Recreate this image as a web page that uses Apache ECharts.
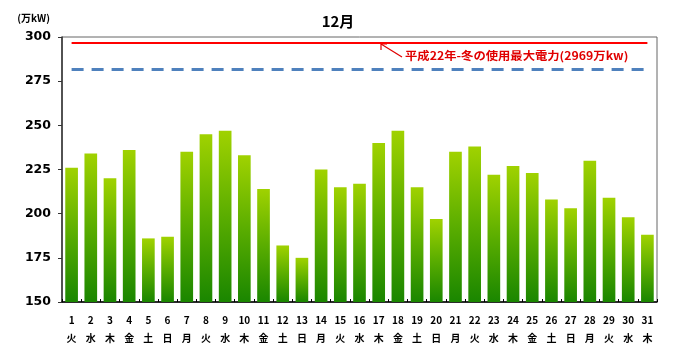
<!DOCTYPE html>
<html><head><meta charset="utf-8">
<script src="https://cdn.jsdelivr.net/npm/echarts@6/dist/echarts.min.js"></script>
<style>html,body{margin:0;padding:0;background:#fff}#c{width:676px;height:355px}</style>
</head><body><div id="c"></div>
<script>
const days = ['1','2','3','4','5','6','7','8','9','10','11','12','13','14','15','16','17','18','19','20','21','22','23','24','25','26','27','28','29','30','31'];
const weekdays = ['火','水','木','金','土','日','月','火','水','木','金','土','日','月','火','水','木','金','土','日','月','火','水','木','金','土','日','月','火','水','木'];
const demand = [226,234,220,236,186,187,235,245,247,233,214,182,175,225,215,217,240,247,215,197,235,238,222,227,223,208,203,230,209,198,188];
const peakLastWinter = 296.9;
const supplyLine = 282;
const yTicks = [150,175,200,225,250,275,300];

const chart = echarts.init(document.getElementById('c'));
const cats = days.map((d,i)=>d+'\n'+weekdays[i]);
const font = "'DejaVu Sans','Noto Sans CJK JP',sans-serif";
chart.setOption({
  animation:false,
  title:{text:'12月',left:'center',top:9,textStyle:{fontSize:15,fontWeight:'bold',color:'#000',fontFamily:"'Noto Sans CJK JP',sans-serif"}},
  grid:{left:62,right:19,top:37,bottom:53,show:true,borderColor:'#666',borderWidth:1},
  xAxis:{type:'category',data:cats,
    axisLine:{lineStyle:{color:'#000',width:1.5}},
    axisTick:{show:true,length:3,inside:true,lineStyle:{color:'#000'}},
    axisLabel:{interval:0,color:'#000',fontSize:10,fontWeight:'bold',lineHeight:18,margin:9,fontFamily:"'Noto Sans CJK JP',sans-serif"}},
  yAxis:{type:'value',min:yTicks[0],max:yTicks[yTicks.length-1],interval:25,
    name:'(万kW)',nameLocation:'end',nameGap:14,
    nameTextStyle:{fontSize:10,fontWeight:'bold',color:'#000',align:'right',padding:[0,12,0,0],fontFamily:"'Noto Sans CJK JP',sans-serif"},
    axisLine:{show:true,lineStyle:{color:'#333',width:1.5}},
    axisTick:{show:true,length:4,lineStyle:{color:'#333'}},
    splitLine:{show:false},
    axisLabel:{color:'#000',fontSize:12.5,fontWeight:'bold',margin:11,fontFamily:font}},
  series:[{
    type:'bar',data:demand,barWidth:'66%',
    itemStyle:{color:new echarts.graphic.LinearGradient(0,0,0,1,[{offset:0,color:'#a0d200'},{offset:0.5,color:'#5aad00'},{offset:1,color:'#1a8600'}])},
    markLine:{silent:true,symbol:'none',label:{show:false},data:[
      [{xAxis:0,yAxis:peakLastWinter,lineStyle:{color:'#ff0000',width:2,type:'solid'}},{xAxis:30,yAxis:peakLastWinter}],
      [{xAxis:0,yAxis:supplyLine,lineStyle:{color:'#4f81bd',width:3,type:[12,8]}},{xAxis:30,yAxis:supplyLine}]
    ]}
  }],
  graphic:[
    {type:'line',shape:{x1:402,y1:57,x2:381,y2:44},style:{stroke:'#e00000',lineWidth:1.2}},
    {type:'polyline',shape:{points:[[381,50],[381,44],[387,44]]},style:{stroke:'#e00000',lineWidth:1.2,fill:null}},
    {type:'text',x:405,y:50,scaleX:1.12,style:{text:'平成22年-冬の使用最大電力(2969万kw)',fill:'#e00000',font:"bold 11px 'Noto Sans CJK JP',sans-serif"}}
  ]
});
</script></body></html>
